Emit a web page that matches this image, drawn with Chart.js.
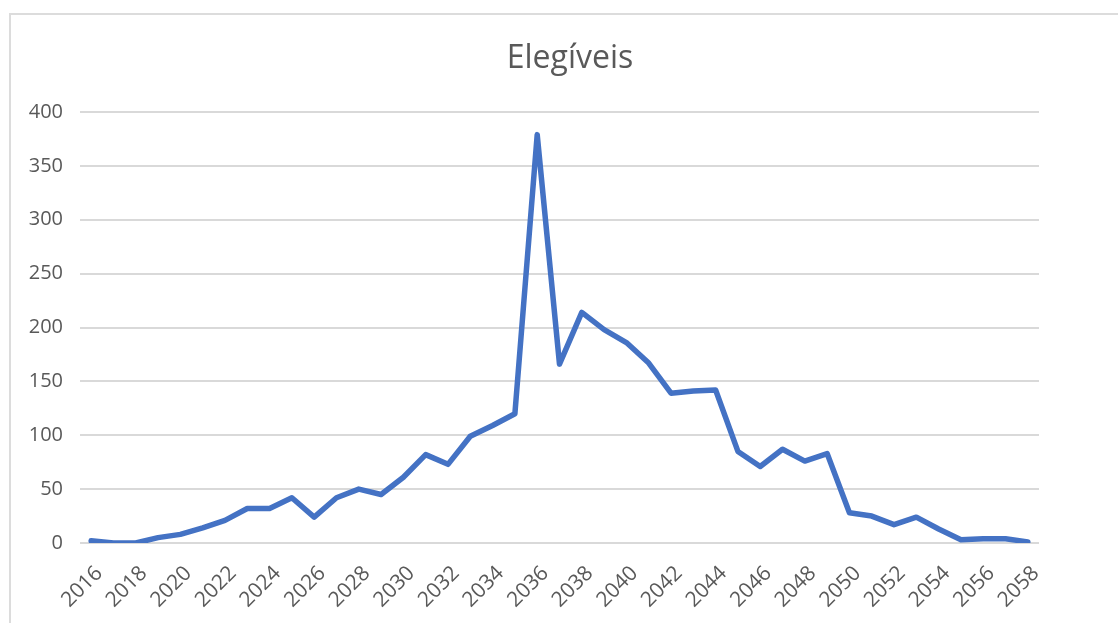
<!DOCTYPE html>
<html>
<head>
<meta charset="utf-8">
<script src="https://cdn.jsdelivr.net/npm/chart.js@4"></script>
<style>
  html, body { margin: 0; padding: 0; background: #fff; overflow: hidden; }
  #frame { position: absolute; left: 9px; top: 13px; width: 1200px; height: 700px; border: 2px solid #dcdcdc; box-sizing: border-box; }
  canvas { position: absolute; left: 0; top: 0; }
</style>
</head>
<body>
<div id="frame"></div>
<canvas id="graph" width="1118" height="623"></canvas>
<script>
// years on the x axis, one point per year
const years = [
  "2016", "2017", "2018", "2019", "2020", "2021", "2022", "2023", "2024", "2025",
  "2026", "2027", "2028", "2029", "2030", "2031", "2032", "2033", "2034", "2035",
  "2036", "2037", "2038", "2039", "2040", "2041", "2042", "2043", "2044", "2045",
  "2046", "2047", "2048", "2049", "2050", "2051", "2052", "2053", "2054", "2055",
  "2056", "2057", "2058"
];

// Elegíveis per year
const elegiveis = [
  2, 0, 0, 5, 8, 14, 21, 32, 32, 42,
  24, 42, 50, 45, 61, 82, 73, 99, 109, 120,
  379, 166, 214, 198, 186, 167, 139, 141, 142, 85,
  71, 87, 76, 83, 28, 25, 17, 24, 13, 3,
  4, 4, 1
];

const yTicks = [0, 50, 100, 150, 200, 250, 300, 350, 400];

const chartTitle = "Elegíveis";
const grey = "#595959";
const font = "'Open Sans', 'Noto Sans', sans-serif";

// the Excel title sits centred on the whole chart box, not the plot,
// so draw it ourselves
const titlePlugin = {
  id: "excelTitle",
  afterDraw(chart) {
    const c = chart.ctx;
    c.save();
    c.font = "32px " + font;
    c.fillStyle = grey;
    c.textAlign = "center";
    c.textBaseline = "alphabetic";
    c.fillText(chartTitle, 570, 68);
    c.restore();
  },
};

const ctx = document.getElementById("graph").getContext("2d");
new Chart(ctx, {
  type: "line",
  data: {
    labels: years,
    datasets: [
      {
        label: chartTitle,
        data: elegiveis,
        borderColor: "#4472C4",
        backgroundColor: "#4472C4",
        borderWidth: 5.5,
        pointRadius: 0,
        tension: 0,
        borderJoinStyle: "round",
        borderCapStyle: "round",
      },
    ],
  },
  plugins: [titlePlugin],
  options: {
    responsive: false,
    animation: false,
    layout: {
      padding: { left: 0, right: 79, top: 112, bottom: 0 },
    },
    plugins: {
      legend: { display: false },
      tooltip: { enabled: false },
      title: { display: false },
    },
    scales: {
      x: {
        offset: true,
        grid: { display: false },
        border: { display: false },
        afterFit: function (axis) {
          axis.height = 80;
          axis.paddingLeft = 0;
          axis.paddingRight = 0;
        },
        ticks: {
          autoSkip: false,
          maxRotation: 45,
          minRotation: 45,
          padding: 10,
          labelOffset: 8,
          color: grey,
          font: { family: font, size: 21 },
          callback: function (value, index) {
            return index % 2 === 0 ? years[index] : "";
          },
        },
      },
      y: {
        min: yTicks[0],
        max: yTicks[yTicks.length - 1],
        border: { display: false },
        grid: { color: "#d9d9d9", lineWidth: 2, drawTicks: false },
        afterBuildTicks: function (axis) {
          axis.ticks = yTicks.map((v) => ({ value: v }));
        },
        afterFit: function (axis) {
          axis.width = 80;
        },
        ticks: {
          padding: 17,
          color: grey,
          font: { family: font, size: 20 },
        },
      },
    },
  },
});
</script>
</body>
</html>
